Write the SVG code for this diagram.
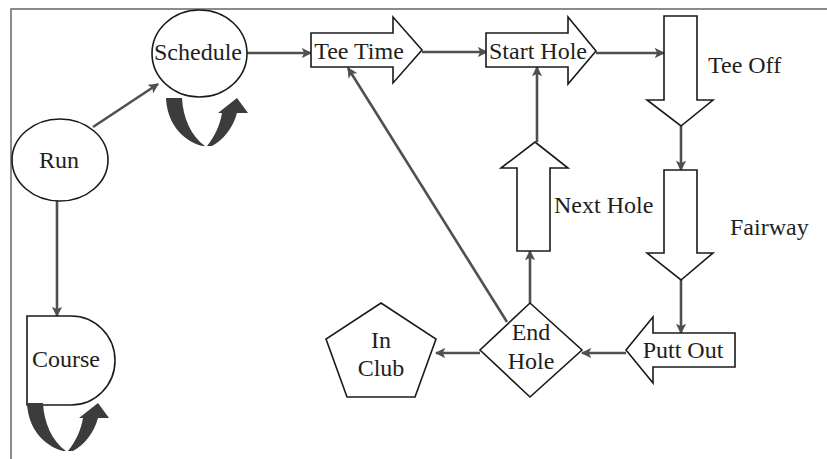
<svg xmlns="http://www.w3.org/2000/svg" width="827" height="459" viewBox="0 0 827 459">
<style>
.shape{fill:#fff;stroke:#1a1a1a;stroke-width:1.6}
.lbl{font-family:"Liberation Serif","Times New Roman",serif;font-size:24px;fill:#1e1e1e;text-anchor:middle}
.lblL{font-family:"Liberation Serif","Times New Roman",serif;font-size:24px;fill:#1e1e1e}
.conn{fill:none;stroke:#505050;stroke-width:2.6}
.loop{fill:#3c3c3c}
</style>
<defs>
<marker id="ah" viewBox="0 0 10 10" refX="9" refY="5" markerWidth="4" markerHeight="4" orient="auto" markerUnits="strokeWidth">
<path d="M0,0 L10,5 L0,10 L2.5,5 Z" fill="#505050"/>
</marker>
<g id="loopArrow">
<path class="loop" d="M-1,-2 L15,-2 C16,18 24,36 38,46 L35,46 C14,40 0,22 -1,-2 Z"/>
<path class="loop" d="M40,46 C48,36 53,25 55,13 L51,13 L70,-2 L81,13 L70,13 C66,28 56,40 45,46 Z"/>
</g>
</defs>
<rect x="11" y="9" width="830" height="460" fill="none" stroke="#707070" stroke-width="1.6"/>

<g id="connectors">
<line class="conn" x1="93" y1="127" x2="158" y2="84" marker-end="url(#ah)"/>
<line class="conn" x1="57" y1="200" x2="57" y2="316" marker-end="url(#ah)"/>
<line class="conn" x1="247" y1="53" x2="311" y2="53" marker-end="url(#ah)"/>
<line class="conn" x1="422" y1="52" x2="487" y2="52" marker-end="url(#ah)"/>
<line class="conn" x1="596" y1="53" x2="664" y2="53" marker-end="url(#ah)"/>
<line class="conn" x1="681" y1="126" x2="681" y2="170" marker-end="url(#ah)"/>
<line class="conn" x1="681" y1="280" x2="681" y2="333" marker-end="url(#ah)"/>
<line class="conn" x1="626" y1="353" x2="582" y2="353" marker-end="url(#ah)"/>
<line class="conn" x1="480" y1="353" x2="436" y2="353" marker-end="url(#ah)"/>
<line class="conn" x1="507" y1="322" x2="348" y2="68" marker-end="url(#ah)"/>
<line class="conn" x1="530" y1="303" x2="530" y2="251" marker-end="url(#ah)"/>
<line class="conn" x1="537" y1="142" x2="537" y2="67" marker-end="url(#ah)"/>
</g>

<g id="run">
<ellipse class="shape" cx="60" cy="160" rx="48" ry="41"/>
<text class="lbl" x="59" y="168">Run</text>
</g>
<g id="schedule">
<ellipse class="shape" cx="199.5" cy="53.5" rx="47.5" ry="43.5"/>
<text class="lbl" x="198" y="60">Schedule</text>
<use href="#loopArrow" x="167" y="100"/>
</g>
<g id="course">
<path class="shape" d="M27,316 L71,316 A44,44.5 0 0 1 71,405 L27,405 Z"/>
<text class="lbl" x="66" y="367">Course</text>
<use href="#loopArrow" x="28" y="405"/>
</g>
<g id="tee-time">
<path class="shape" d="M311,33 L393,33 L393,17 L422,50 L393,83 L393,67 L311,67 Z"/>
<text class="lbl" x="359" y="59">Tee Time</text>
</g>
<g id="start-hole">
<path class="shape" d="M486,33 L568,33 L568,17 L596,51 L568,84 L568,67 L486,67 Z"/>
<text class="lbl" x="538" y="59">Start Hole</text>
</g>
<g id="tee-off">
<path class="shape" d="M664,16 L697,16 L697,100 L713,100 L681,126 L647,100 L664,100 Z"/>
<text class="lblL" x="708" y="73">Tee Off</text>
</g>
<g id="fairway">
<path class="shape" d="M664,170 L697,170 L697,253 L713,253 L681,280 L647,253 L664,253 Z"/>
<text class="lblL" x="730" y="235">Fairway</text>
</g>
<g id="putt-out">
<path class="shape" d="M735,333 L735,367 L653,367 L653,383 L626,350 L653,317 L653,333 Z"/>
<text class="lbl" x="683" y="358">Putt Out</text>
</g>
<g id="end-hole">
<path class="shape" d="M530,303 L582,350 L530,397 L480,350 Z"/>
<text class="lbl" x="531" y="340">End</text>
<text class="lbl" x="531" y="369">Hole</text>
</g>
<g id="in-club">
<path class="shape" d="M381,303 L436,339 L415,397 L347,397 L326,339 Z"/>
<text class="lbl" x="381" y="348">In</text>
<text class="lbl" x="381" y="376">Club</text>
</g>
<g id="next-hole">
<path class="shape" d="M535,142 L568,168 L550,168 L550,251 L517,251 L517,168 L501,168 Z"/>
<text class="lblL" x="554" y="213">Next Hole</text>
</g>
</svg>
